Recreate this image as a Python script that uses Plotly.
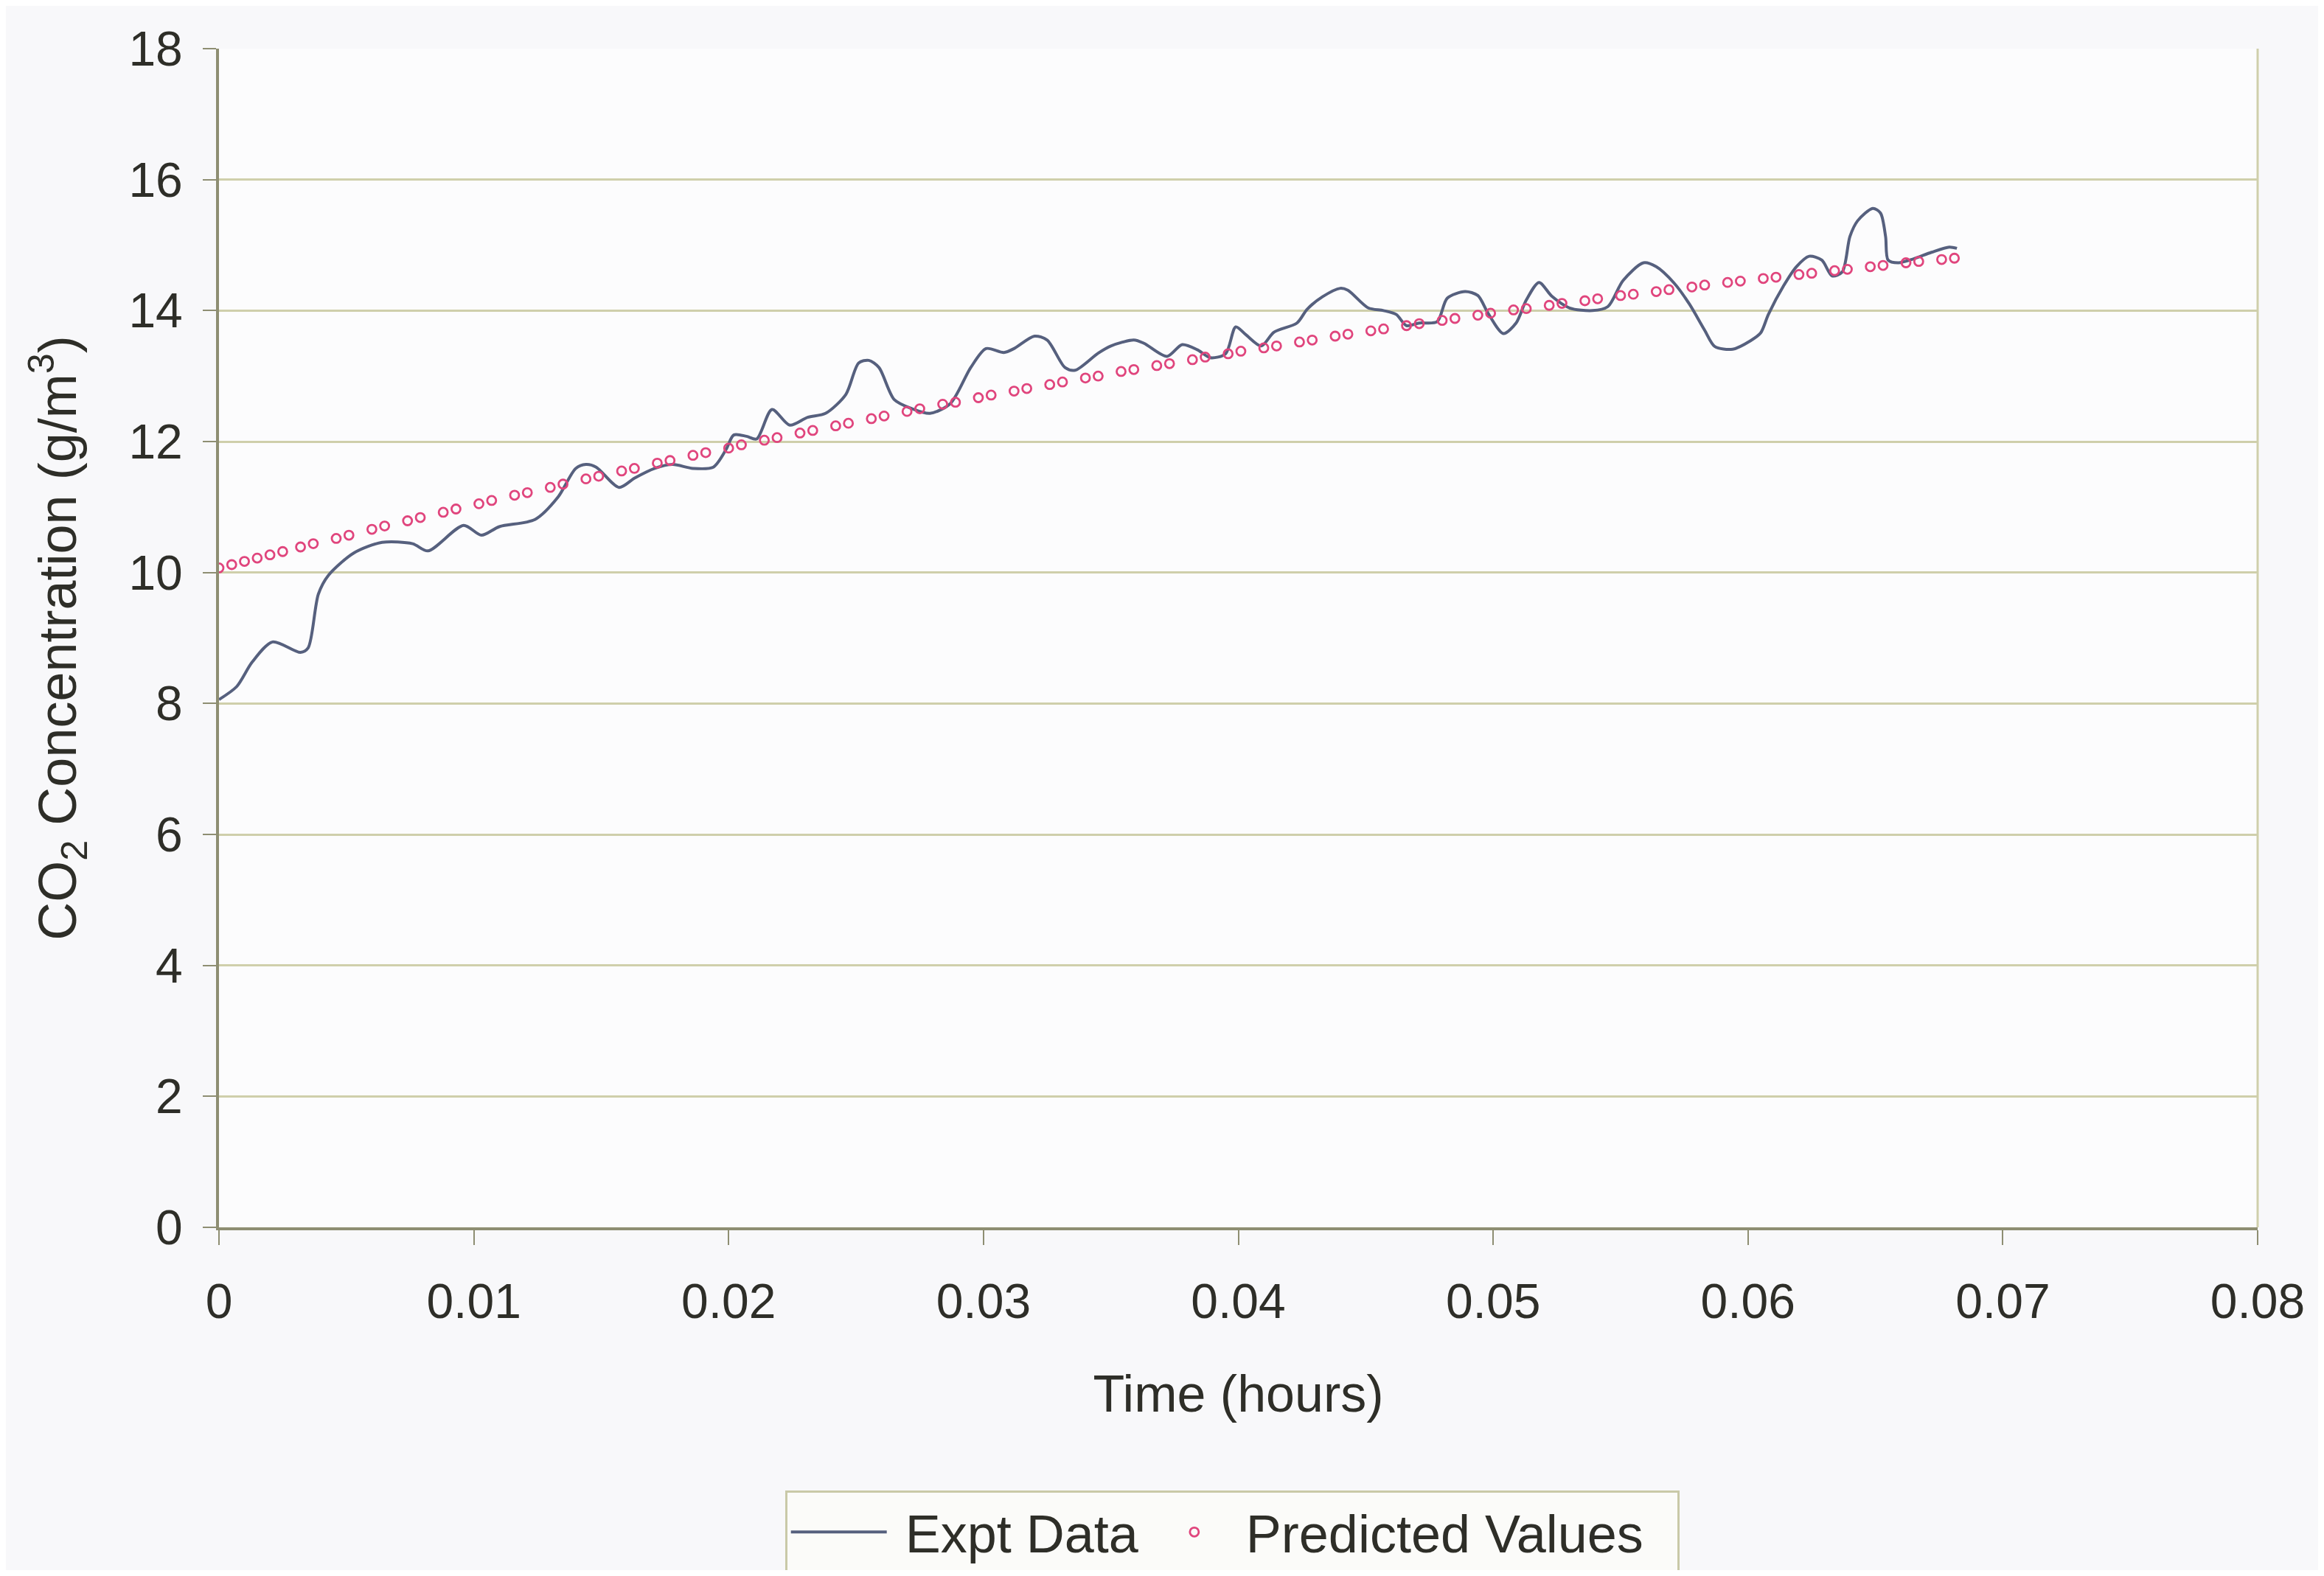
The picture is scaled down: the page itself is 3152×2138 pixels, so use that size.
import plotly.graph_objects as go

expt_t = [0.0000, 0.0007, 0.0013, 0.0021, 0.0032, 0.0035, 0.0039, 0.0043, 0.0053, 0.0064,
          0.0076, 0.0082, 0.0096, 0.0103, 0.0110, 0.0124, 0.0133, 0.0140, 0.0144, 0.0148,
          0.0157, 0.0163, 0.0171, 0.0178, 0.0186, 0.0194, 0.0199, 0.0202, 0.0207, 0.0211,
          0.0217, 0.0224, 0.0231, 0.0238, 0.0246, 0.0251, 0.0255, 0.0259, 0.0265, 0.0272,
          0.0279, 0.0287, 0.0295, 0.0301, 0.0308, 0.0312, 0.0320, 0.0325, 0.0332, 0.0336,
          0.0345, 0.0350, 0.0359, 0.0363, 0.0372, 0.0378, 0.0384, 0.0389, 0.0395, 0.0399,
          0.0403, 0.0409, 0.0414, 0.0423, 0.0427, 0.0433, 0.0440, 0.0443, 0.0451, 0.0457,
          0.0462, 0.0466, 0.0471, 0.0478, 0.0482, 0.0489, 0.0494, 0.0498, 0.0504, 0.0509,
          0.0513, 0.0518, 0.0523, 0.0530, 0.0539, 0.0545, 0.0551, 0.0559, 0.0564, 0.0571,
          0.0577, 0.0583, 0.0587, 0.0594, 0.0601, 0.0605, 0.0608, 0.0614, 0.0619, 0.0624,
          0.0629, 0.0633, 0.0637, 0.0640, 0.0643, 0.0649, 0.0652, 0.0654, 0.0655, 0.0659,
          0.0665, 0.0672, 0.0679, 0.0682]
expt_v = [8.06, 8.26, 8.63, 8.94, 8.78, 8.85, 9.67, 9.96, 10.30, 10.46,
          10.44, 10.33, 10.72, 10.57, 10.70, 10.81, 11.15, 11.59, 11.65, 11.61,
          11.30, 11.44, 11.59, 11.65, 11.59, 11.61, 11.88, 12.10, 12.08, 12.04,
          12.49, 12.25, 12.37, 12.43, 12.72, 13.20, 13.24, 13.13, 12.64, 12.50,
          12.43, 12.58, 13.13, 13.42, 13.36, 13.42, 13.61, 13.55, 13.13, 13.09,
          13.35, 13.46, 13.55, 13.50, 13.30, 13.48, 13.40, 13.28, 13.34, 13.75,
          13.63, 13.46, 13.67, 13.81, 14.02, 14.21, 14.34, 14.31, 14.04, 14.00,
          13.94, 13.77, 13.81, 13.83, 14.19, 14.29, 14.23, 13.96, 13.65, 13.81,
          14.16, 14.43, 14.22, 14.04, 14.00, 14.06, 14.46, 14.73, 14.67, 14.42,
          14.10, 13.70, 13.45, 13.41, 13.54, 13.66, 13.94, 14.38, 14.67, 14.83,
          14.77, 14.53, 14.59, 15.13, 15.37, 15.56, 15.49, 15.13, 14.77, 14.73,
          14.79, 14.89, 14.97, 14.95]

# ---- Predicted values ----
pred_t = [0.0000, 0.0005, 0.0010, 0.0015, 0.0020, 0.0025,
          0.0032, 0.0037, 0.0046, 0.0051, 0.0060, 0.0065, 0.0074, 0.0079, 0.0088, 0.0093,
          0.0102, 0.0107, 0.0116, 0.0121, 0.0130, 0.0135, 0.0144, 0.0149, 0.0158, 0.0163,
          0.0172, 0.0177, 0.0186, 0.0191, 0.0200, 0.0205, 0.0214, 0.0219, 0.0228, 0.0233,
          0.0242, 0.0247, 0.0256, 0.0261, 0.0270, 0.0275, 0.0284, 0.0289, 0.0298, 0.0303,
          0.0312, 0.0317, 0.0326, 0.0331, 0.0340, 0.0345, 0.0354, 0.0359, 0.0368, 0.0373,
          0.0382, 0.0387, 0.0396, 0.0401, 0.0410, 0.0415, 0.0424, 0.0429, 0.0438, 0.0443,
          0.0452, 0.0457, 0.0466, 0.0471, 0.0480, 0.0485, 0.0494, 0.0499, 0.0508, 0.0513,
          0.0522, 0.0527, 0.0536, 0.0541, 0.0550, 0.0555, 0.0564, 0.0569, 0.0578, 0.0583,
          0.0592, 0.0597, 0.0606, 0.0611, 0.0620, 0.0625, 0.0634, 0.0639, 0.0648, 0.0653,
          0.0662, 0.0667, 0.0676, 0.0681]
pred_v = [10.07, 10.12, 10.17, 10.22, 10.27, 10.32,
          10.39, 10.44, 10.52, 10.57, 10.66, 10.71, 10.79, 10.84, 10.92, 10.97,
          11.05, 11.10, 11.18, 11.22, 11.30, 11.35, 11.43, 11.47, 11.55, 11.59,
          11.67, 11.71, 11.79, 11.83, 11.90, 11.95, 12.02, 12.06, 12.13, 12.17,
          12.24, 12.28, 12.35, 12.39, 12.46, 12.50, 12.57, 12.60, 12.67, 12.71,
          12.77, 12.81, 12.87, 12.91, 12.97, 13.00, 13.07, 13.10, 13.16, 13.19,
          13.25, 13.29, 13.34, 13.38, 13.43, 13.46, 13.52, 13.55, 13.61, 13.64,
          13.69, 13.72, 13.77, 13.80, 13.85, 13.88, 13.93, 13.96, 14.01, 14.03,
          14.08, 14.11, 14.15, 14.18, 14.23, 14.25, 14.29, 14.32, 14.36, 14.39,
          14.43, 14.45, 14.49, 14.51, 14.55, 14.57, 14.61, 14.63, 14.67, 14.69,
          14.73, 14.75, 14.78, 14.80]

x_ticks = [0, 0.01, 0.02, 0.03, 0.04, 0.05, 0.06, 0.07, 0.08]
x_tick_text = ["0", "0.01", "0.02", "0.03", "0.04", "0.05", "0.06", "0.07", "0.08"]
y_ticks = [0, 2, 4, 6, 8, 10, 12, 14, 16, 18]

FONT = "Liberation Sans, Arial, sans-serif"
TXT = "#2e2e28"
GRID = "#cfcfab"
AXIS = "#8e8e72"

# page body has an 8px margin, so the figure is drawn 16px smaller
W, H = 3136, 2122

fig = go.Figure()
fig.add_trace(go.Scatter(
    x=expt_t, y=expt_v, mode="lines", name="&nbsp;Expt Data",
    line=dict(color="#56607e", width=4, shape="spline", smoothing=0.8),
))
fig.add_trace(go.Scatter(
    x=pred_t, y=pred_v, mode="markers", name="Predicted Values&nbsp;&nbsp;",
    marker=dict(symbol="circle-open", size=12, color="#e0457d", line=dict(width=2.8)),
))

fig.update_layout(
    width=W, height=H,
    paper_bgcolor="#f8f8fa", plot_bgcolor="#fcfcfd",
    font=dict(family=FONT, size=66, color=TXT),
    margin=dict(l=289, r=82, t=58, b=465, autoexpand=False),
    showlegend=True,
    legend=dict(
        orientation="h", x=0.497, xanchor="center", y=-0.2233, yanchor="top",
        font=dict(size=72, color=TXT), bgcolor="#fbfbf9",
        bordercolor="#c9c9a8", borderwidth=3, itemwidth=130,
    ),
)
fig.update_xaxes(
    range=[0, 0.08], tickmode="array", tickvals=x_ticks, ticktext=x_tick_text,
    showgrid=False, zeroline=False,
    showline=True, linecolor=AXIS, linewidth=4, mirror=False,
    ticks="outside", ticklen=20, tickwidth=2, tickcolor=AXIS,
    ticklabelstandoff=20,
    tickfont=dict(size=66, color=TXT),
    title=dict(text="Time (hours)", font=dict(size=70, color=TXT), standoff=66),
    automargin=False,
)
fig.update_yaxes(
    range=[0, 18], tickmode="array", tickvals=y_ticks,
    showgrid=True, gridcolor=GRID, gridwidth=3, zeroline=False,
    showline=True, linecolor=AXIS, linewidth=4,
    ticks="outside", ticklen=18, tickwidth=2, tickcolor=AXIS,
    ticklabelstandoff=14,
    tickfont=dict(size=66, color=TXT),
    title=dict(text="CO<sub>2</sub> Concentration (g/m<sup>3</sup>)",
               font=dict(size=72, color=TXT), standoff=48),
    automargin=False,
)
# right border of the plot area
fig.add_shape(type="line", xref="paper", yref="paper", x0=1, x1=1, y0=0, y1=1,
              line=dict(color=GRID, width=3))

fig.write_html("out.html")
